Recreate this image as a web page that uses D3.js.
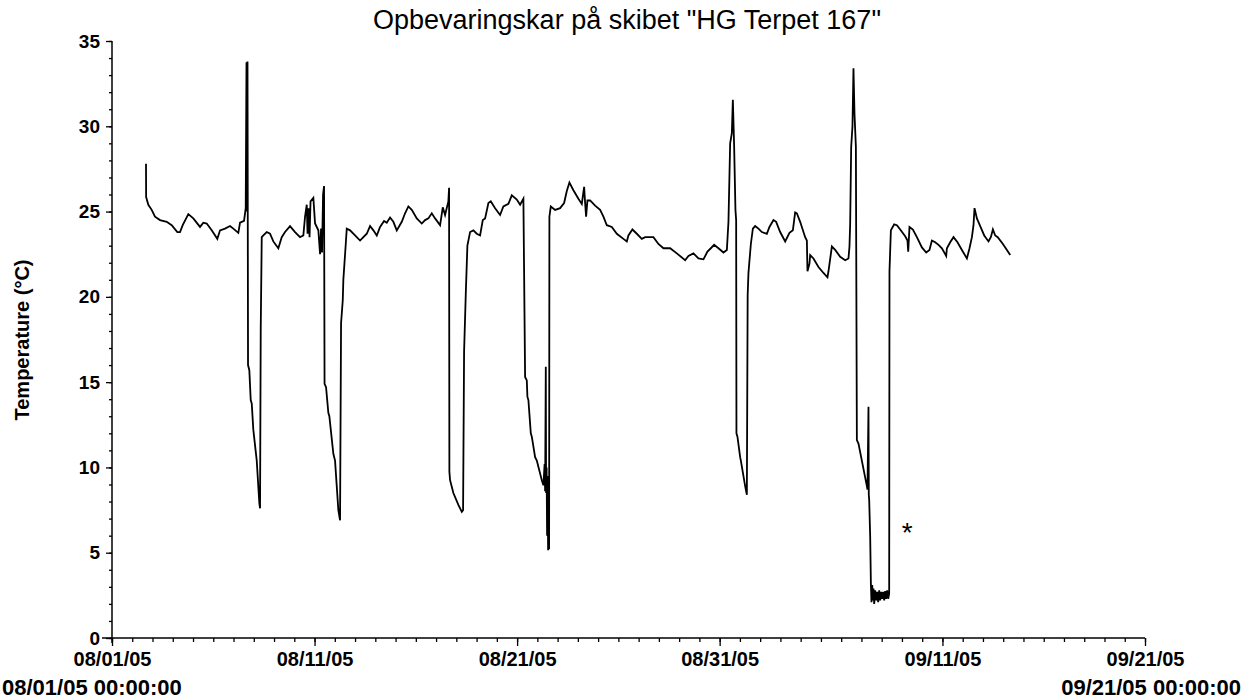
<!DOCTYPE html>
<html>
<head>
<meta charset="utf-8">
<script src="https://cdn.jsdelivr.net/npm/d3@7"></script>
<style>
  html, body { margin: 0; padding: 0; background: #fff; }
  svg { display: block; }
  text { font-family: "Liberation Sans", Arial, sans-serif; fill: #000; }
</style>
</head>
<body>
<svg id="chart" width="1245" height="700"></svg>
<script>
// ---- data ----
const chartTitle = 'Opbevaringskar på skibet "HG Terpet 167"';
const yAxisTitle = "Temperature (°C)";
const startDate = new Date(2005, 7, 1);   // 08/01/05 00:00:00
const endDate = new Date(2005, 8, 21);    // 09/21/05 00:00:00
const majorTickDates = ["2005-08-01", "2005-08-11", "2005-08-21", "2005-08-31", "2005-09-11", "2005-09-21"];
const yTickValues = [0, 5, 10, 15, 20, 25, 30, 35];
const startLabel = "08/01/05 00:00:00";
const endLabel = "09/21/05 00:00:00";
const noteMark = "*";
const noteDay = 39.26, noteTemp = 5.6;

// days since 08/01/05 00:00
const dayOffsets = [
  1.679, 1.685, 1.793, 1.960, 2.123, 2.370, 2.701, 2.948, 3.225, 3.358, 3.491, 3.768, 4.015, 4.346, 4.509,
  4.677, 4.923, 5.200, 5.333, 5.580, 5.827, 5.990, 6.237, 6.321, 6.519, 6.602, 6.640, 6.655, 6.690, 6.716,
  6.780, 6.849, 6.899, 6.978, 7.146, 7.274, 7.309, 7.343, 7.393, 7.472, 7.640, 7.802, 7.965, 8.212, 8.380,
  8.543, 8.790, 9.037, 9.284, 9.447, 9.531, 9.615, 9.654, 9.704, 9.753, 9.802, 9.941, 10.025, 10.188, 10.272,
  10.321, 10.370, 10.420, 10.469, 10.494, 10.568, 10.681, 10.731, 10.928, 11.012, 11.175, 11.259, 11.309, 11.393, 11.422,
  11.541, 11.590, 11.753, 12.000, 12.247, 12.410, 12.578, 12.741, 12.904, 13.072, 13.235, 13.432, 13.565, 13.728, 13.891,
  14.059, 14.306, 14.469, 14.632, 14.800, 15.047, 15.294, 15.457, 15.620, 15.788, 15.951, 16.198, 16.331, 16.444, 16.607,
  16.642, 16.657, 16.691, 16.854, 17.101, 17.269, 17.333, 17.383, 17.467, 17.546, 17.679, 17.842, 18.010, 18.173, 18.306,
  18.420, 18.583, 18.701, 18.914, 19.160, 19.323, 19.570, 19.738, 19.985, 20.148, 20.311, 20.395, 20.479, 20.509, 20.558,
  20.677, 20.726, 20.889, 20.973, 21.220, 21.299, 21.358, 21.383, 21.417, 21.432, 21.457, 21.481, 21.506, 21.531, 21.556,
  21.580, 21.595, 21.664, 21.877, 22.123, 22.321, 22.454, 22.583, 22.780, 23.027, 23.195, 23.309, 23.358, 23.407, 23.472,
  23.605, 23.852, 24.099, 24.262, 24.430, 24.677, 24.923, 25.249, 25.417, 25.496, 25.694, 25.911, 26.158, 26.321, 26.731,
  26.978, 27.225, 27.556, 27.886, 28.296, 28.459, 28.706, 28.953, 29.200, 29.398, 29.565, 29.728, 29.941, 30.188, 30.356,
  30.435, 30.519, 30.602, 30.652, 30.716, 30.780, 30.815, 30.830, 30.879, 31.012, 31.047, 31.259, 31.343, 31.383, 31.422,
  31.541, 31.640, 31.753, 31.916, 32.084, 32.331, 32.459, 32.657, 32.790, 32.988, 33.235, 33.447, 33.615, 33.728, 33.812,
  33.975, 34.222, 34.306, 34.336, 34.435, 34.469, 34.632, 34.879, 35.126, 35.323, 35.373, 35.541, 35.704, 35.951, 36.198,
  36.360, 36.410, 36.444, 36.494, 36.558, 36.607, 36.657, 36.726, 36.775, 36.854, 37.269, 37.299, 37.348, 37.363, 37.383,
  37.432, 37.467, 37.496, 37.531, 37.565, 37.595, 37.630, 37.679, 37.728, 37.778, 37.827, 37.877, 37.926, 37.975, 38.025,
  38.074, 38.123, 38.173, 38.222, 38.272, 38.321, 38.370, 38.385, 38.454, 38.617, 38.751, 38.914, 39.160, 39.274, 39.309,
  39.373, 39.541, 39.738, 39.985, 40.198, 40.360, 40.479, 40.642, 40.805, 40.973, 41.185, 41.220, 41.383, 41.546, 41.743,
  41.960, 42.207, 42.336, 42.454, 42.533, 42.583, 42.701, 42.864, 43.062, 43.274, 43.388, 43.491, 43.605, 43.728, 43.985,
  44.346
];
// temperature, °C
const temps = [
  27.8, 25.85, 25.4, 25.1, 24.7, 24.5, 24.4, 24.2, 23.8, 23.8, 24.2, 24.85, 24.6, 24.1, 24.35,
  24.3, 23.9, 23.4, 23.9, 24.0, 24.15, 24.0, 23.75, 24.35, 24.45, 25.2, 33.75, 25.0, 33.8, 16.0,
  15.7, 13.95, 13.75, 12.2, 10.4, 7.9, 7.6, 18.15, 23.5, 23.6, 23.8, 23.7, 23.25, 22.85, 23.5,
  23.8, 24.15, 23.8, 23.5, 23.6, 24.7, 25.4, 23.7, 25.2, 23.5, 25.6, 25.8, 24.3, 23.9, 22.5,
  24.0, 22.6, 26.0, 26.5, 14.9, 14.7, 13.2, 13.0, 10.8, 10.4, 7.5, 6.9, 18.45, 19.8, 21.0,
  23.1, 24.0, 23.9, 23.6, 23.3, 23.5, 23.7, 24.15, 23.9, 23.6, 24.1, 24.45, 24.35, 24.65, 24.4,
  23.9, 24.4, 24.9, 25.3, 25.1, 24.6, 24.3, 24.5, 24.6, 24.9, 24.6, 24.2, 25.25, 24.8, 25.6,
  26.4, 9.75, 9.25, 8.5, 7.8, 7.4, 7.5, 16.8, 20.2, 23.0, 23.8, 23.9, 23.7, 23.6, 24.5,
  24.6, 25.5, 25.6, 25.2, 24.8, 25.3, 25.45, 25.95, 25.7, 25.4, 25.75, 15.3, 15.1, 14.15, 13.95,
  12.0, 11.8, 10.6, 10.4, 9.25, 8.95, 10.2, 8.6, 15.9, 8.5, 10.0, 6.0, 9.5, 5.15, 8.0,
  5.2, 24.7, 25.3, 25.1, 25.2, 25.5, 26.2, 26.7, 26.25, 25.75, 25.45, 26.45, 25.5, 24.7, 25.65,
  25.65, 25.35, 25.1, 24.7, 24.2, 24.1, 23.7, 23.4, 23.25, 23.6, 23.95, 23.7, 23.4, 23.5, 23.5,
  23.1, 22.85, 22.85, 22.55, 22.15, 22.4, 22.55, 22.25, 22.2, 22.65, 22.85, 23.05, 22.85, 22.6, 22.75,
  24.4, 29.0, 29.6, 31.55, 28.8, 25.1, 24.5, 12.0, 11.8, 10.6, 10.4, 8.9, 8.4, 20.1, 21.4,
  23.1, 24.0, 24.15, 24.0, 23.8, 23.7, 24.1, 24.5, 24.4, 23.8, 23.25, 23.75, 23.9, 24.95, 24.9,
  24.4, 23.5, 23.3, 21.5, 21.95, 22.45, 22.25, 21.75, 21.4, 21.15, 21.5, 22.95, 22.75, 22.35, 22.15,
  22.25, 22.95, 24.3, 28.8, 30.0, 33.4, 30.75, 28.8, 11.6, 11.4, 8.9, 8.7, 13.55, 8.4, 8.1,
  5.95, 3.2, 2.1, 3.1, 2.2, 2.9, 2.0, 2.8, 2.2, 2.7, 2.1, 2.8, 2.2, 2.7, 2.3,
  2.7, 2.2, 2.75, 2.3, 2.8, 2.3, 2.6, 21.5, 23.9, 24.25, 24.2, 23.95, 23.55, 23.3, 22.65,
  24.1, 23.95, 23.5, 22.9, 22.6, 22.75, 23.3, 23.2, 23.05, 22.85, 22.4, 22.85, 23.2, 23.5, 23.2,
  22.75, 22.25, 22.85, 23.5, 24.2, 25.2, 24.6, 24.15, 23.6, 23.25, 23.5, 23.95, 23.6, 23.5, 23.1,
  22.45
];

// ---- drawing ----
const svg = d3.select("#chart");
const DAY = 86400000;
const parseDate = d3.timeParse("%Y-%m-%d");
const fmt = d3.timeFormat("%m/%d/%y");

const x = d3.scaleTime().domain([startDate, endDate]).range([112, 1145]);
const y = d3.scaleLinear().domain([0, 35]).range([638, 41]);

const series = dayOffsets.map((d, i) => ({ t: new Date(startDate.getTime() + d * DAY), v: temps[i] }));

// title
svg.append("text")
  .attr("x", 627).attr("y", 29)
  .attr("text-anchor", "middle")
  .style("font-size", "27px")
  .text(chartTitle);

// y axis title
svg.append("text")
  .attr("transform", "translate(29,340) rotate(-90)")
  .attr("text-anchor", "middle")
  .style("font-size", "20px").style("font-weight", "bold")
  .text(yAxisTitle);

// minor x ticks (daily)
const xMinor = d3.axisBottom(x).ticks(d3.timeDay.every(1)).tickSize(4).tickSizeOuter(0).tickFormat("");
svg.append("g").attr("transform", "translate(0,638)").call(xMinor)
  .call(g => g.select(".domain").remove())
  .call(g => g.selectAll("line").attr("stroke", "#000").attr("stroke-width", 1.3));

// major x ticks
const xMajor = d3.axisBottom(x)
  .tickValues(majorTickDates.map(parseDate))
  .tickSize(8).tickSizeOuter(0).tickPadding(6)
  .tickFormat(fmt);
const gx = svg.append("g").attr("transform", "translate(0,638)").call(xMajor);
gx.select(".domain").remove();
gx.selectAll("line").attr("stroke", "#000").attr("stroke-width", 1.3);
gx.selectAll("text")
  .attr("fill", "#000")
  .style("font-family", '"Liberation Sans", Arial, sans-serif')
  .style("font-size", "20px").style("font-weight", "bold");

// x axis line
svg.append("line").attr("x1", 102).attr("x2", x(endDate)).attr("y1", 638).attr("y2", 638)
  .attr("stroke", "#000").attr("stroke-width", 1.5);

// second-line labels
svg.append("text").attr("x", 2).attr("y", 695)
  .style("font-size", "22px").style("font-weight", "bold").text(startLabel);
svg.append("text").attr("x", 1241).attr("y", 695).attr("text-anchor", "end")
  .style("font-size", "22px").style("font-weight", "bold").text(endLabel);

// minor y ticks
const yMinor = d3.axisLeft(y).tickValues(d3.range(0, 36, 1)).tickSize(3).tickFormat("");
svg.append("g").attr("transform", "translate(112,0)").call(yMinor)
  .call(g => g.select(".domain").remove())
  .call(g => g.selectAll("line").attr("stroke", "#000").attr("stroke-width", 1.3));

// major y ticks
const yMajor = d3.axisLeft(y).tickValues(yTickValues).tickSize(6).tickSizeOuter(0).tickPadding(6).tickFormat(d3.format("d"));
const gy = svg.append("g").attr("transform", "translate(112,0)").call(yMajor);
gy.select(".domain").remove();
gy.selectAll("line").attr("stroke", "#000").attr("stroke-width", 1.3);
gy.selectAll("text")
  .attr("fill", "#000")
  .style("font-family", '"Liberation Sans", Arial, sans-serif')
  .style("font-size", "19px").style("font-weight", "bold");

// y axis line
svg.append("line").attr("x1", 112).attr("x2", 112).attr("y1", y(35)).attr("y2", 643)
  .attr("stroke", "#000").attr("stroke-width", 1.5);

// data line
const line = d3.line().x(d => x(d.t)).y(d => y(d.v));
svg.append("path").datum(series)
  .attr("fill", "none").attr("stroke", "#000").attr("stroke-width", 1.8)
  .attr("stroke-linejoin", "miter")
  .attr("d", line);

// annotation mark
svg.append("text")
  .attr("x", x(new Date(startDate.getTime() + noteDay * DAY)))
  .attr("y", y(noteTemp))
  .attr("text-anchor", "middle")
  .style("font-size", "28px")
  .text(noteMark);
</script>
</body>
</html>
